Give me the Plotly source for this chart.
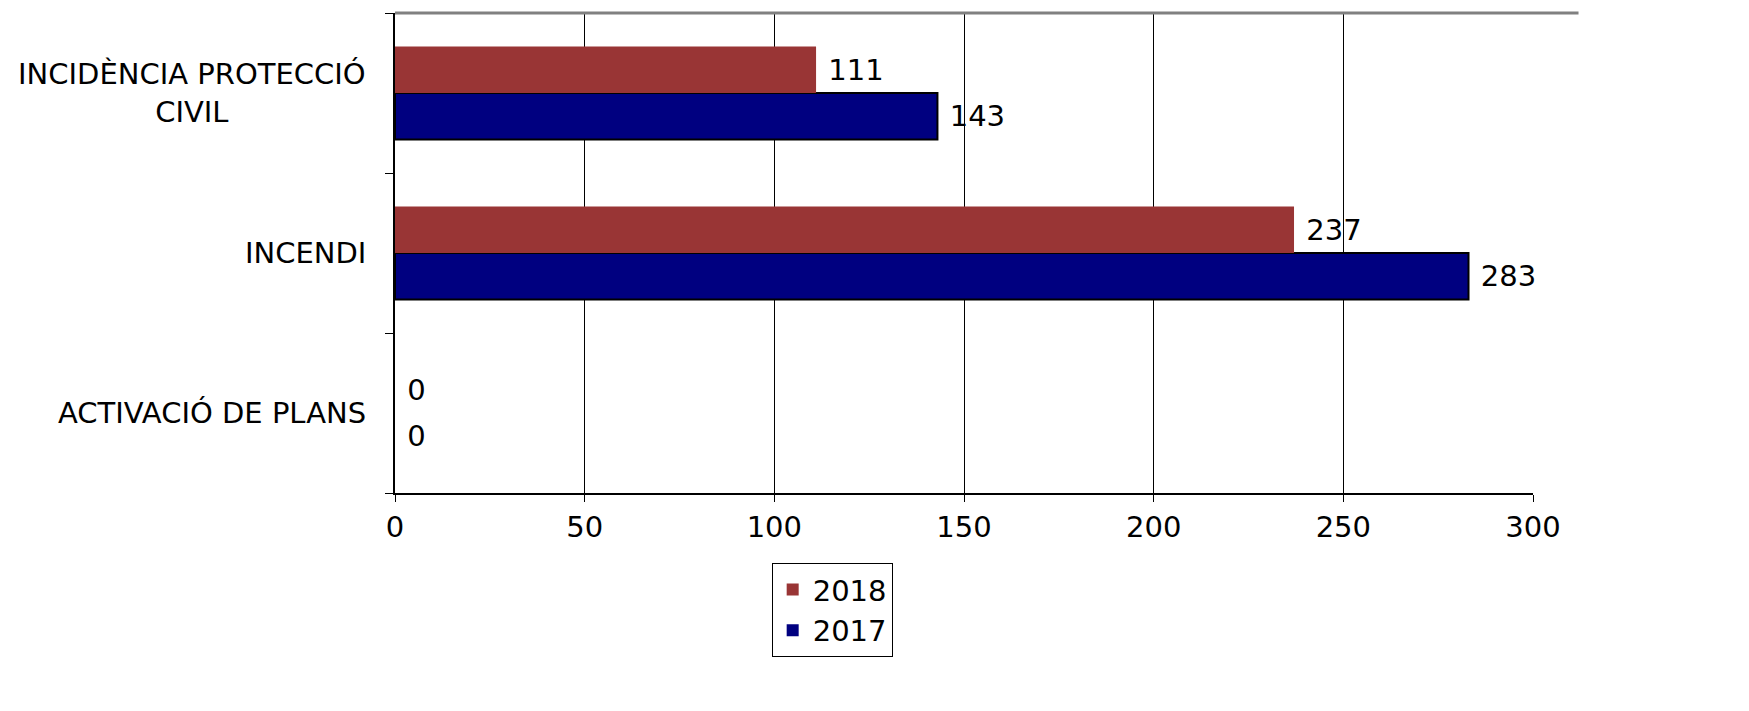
import plotly.graph_objects as go

categories = ["ACTIVACIÓ DE PLANS", "INCENDI", "INCIDÈNCIA PROTECCIÓ<br>CIVIL"]
values_2017 = [0, 283, 143]
values_2018 = [0, 237, 111]
x_ticks = [0, 50, 100, 150, 200, 250, 300]

FONT = "DejaVu Sans"
FS = 29

fig = go.Figure()
fig.add_trace(go.Bar(
    y=categories, x=values_2017, name="2017", orientation="h",
    marker=dict(color="#000080",
                line=dict(color="#000000", width=[2 if v > 0 else 0 for v in values_2017])),
    text=[str(v) for v in values_2017], texttemplate="&nbsp;%{text}",
    textposition="outside",
    textfont=dict(family=FONT, size=FS, color="#000000"), cliponaxis=False,
))
fig.add_trace(go.Bar(
    y=categories, x=values_2018, name="2018", orientation="h",
    marker=dict(color="#993535", line=dict(width=0)),
    text=[str(v) for v in values_2018], texttemplate="&nbsp;%{text}",
    textposition="outside",
    textfont=dict(family=FONT, size=FS, color="#000000"), cliponaxis=False,
))

annotations = [
    dict(x=0, xref="paper", y=c, yref="y", text=c, showarrow=False,
         xanchor="right", yanchor="middle", xshift=-27, align="center",
         font=dict(family=FONT, size=FS, color="#000000"))
    for c in categories
]

fig.update_layout(
    width=1741, height=703,
    margin=dict(l=387, r=216, t=5, b=218, autoexpand=False),
    paper_bgcolor="white", plot_bgcolor="white",
    barmode="group", bargap=0.42, bargroupgap=0,
    font=dict(family=FONT, size=FS, color="#000000"),
    showlegend=True,
    legend=dict(
        x=0.331, y=-0.146, xanchor="left", yanchor="top",
        traceorder="reversed", bordercolor="#000000", borderwidth=1,
        bgcolor="white", font=dict(family=FONT, size=FS),
        itemwidth=30, tracegroupgap=0,
    ),
    xaxis=dict(
        range=[0, 300], tickvals=x_ticks, ticktext=[str(t) for t in x_ticks],
        showgrid=True, gridcolor="#000000", gridwidth=1,
        showline=True, linecolor="#000000", linewidth=2,
        ticks="outside", ticklen=7, tickcolor="#000000",
        zeroline=False, tickfont=dict(family=FONT, size=FS),
    ),
    yaxis=dict(
        type="category", categoryorder="array", categoryarray=categories,
        showgrid=False, showline=True, linecolor="#000000", linewidth=2,
        ticks="outside", ticklen=8, tickson="boundaries", tickcolor="#000000",
        showticklabels=False, zeroline=False,
    ),
    annotations=annotations,
    shapes=[dict(type="line", xref="paper", yref="paper", x0=0, x1=1.04,
                 y0=1, y1=1, line=dict(color="#808080", width=3))],
)

fig.write_html("out.html")
